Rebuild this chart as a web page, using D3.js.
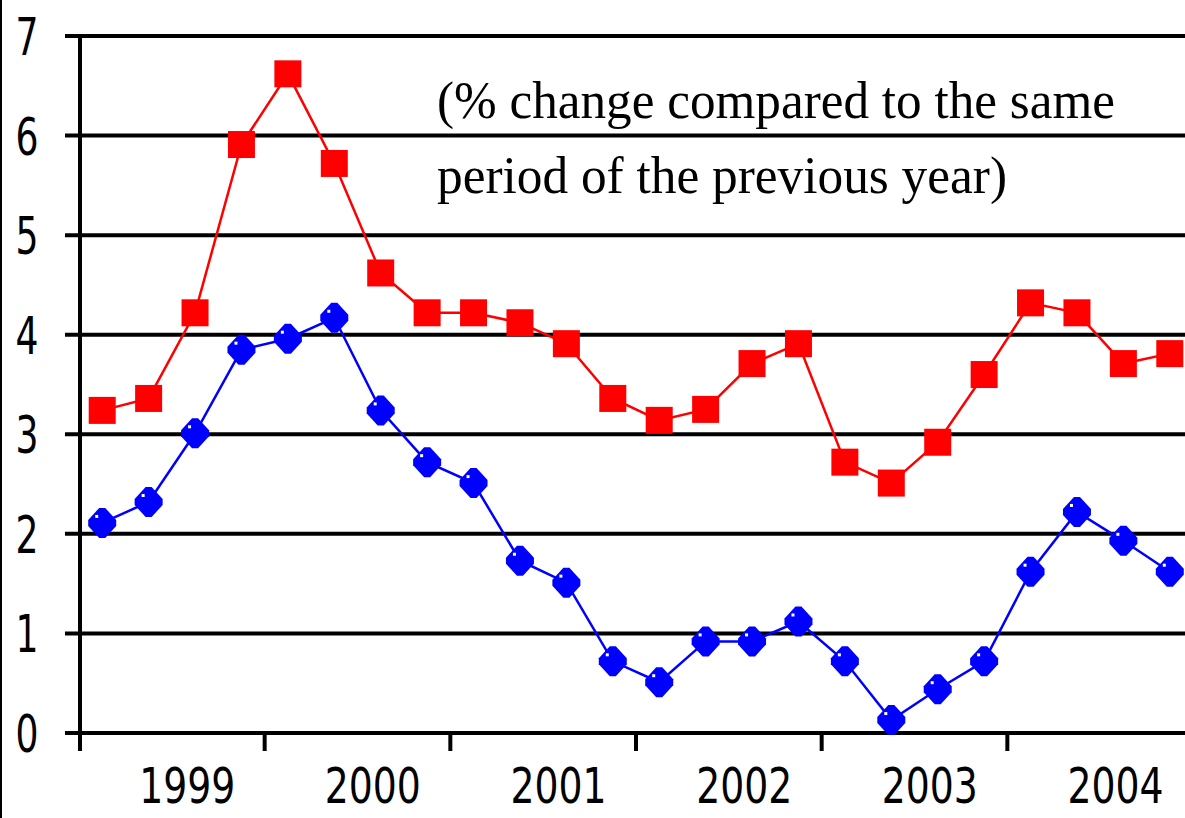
<!DOCTYPE html>
<html>
<head>
<meta charset="utf-8">
<script src="https://cdn.jsdelivr.net/npm/d3@7"></script>
<style>
  body { margin: 0; background: #fff; }
  svg { display: block; }
  .num { font-family: "Liberation Sans Narrow", "DejaVu Sans Condensed", "Arial Narrow", sans-serif; font-size: 52px; fill: #000; }
  .yr { font-size: 50px; }
  .note { font-family: "Liberation Serif", "DejaVu Serif", serif; font-size: 52px; fill: #000; }
</style>
</head>
<body>
<div id="chart"></div>
<script>
// quarterly data, 1999 Q1 .. 2004 Q4
var years = ["1999", "2000", "2001", "2002", "2003", "2004"];
var quarters = [];
years.forEach(function (y) { ["Q1", "Q2", "Q3", "Q4"].forEach(function (q) { quarters.push(y + q); }); });

var redSeries = [3.24, 3.36, 4.22, 5.91, 6.62, 5.72, 4.62, 4.22, 4.22, 4.12, 3.91, 3.36,
                 3.14, 3.25, 3.71, 3.91, 2.72, 2.51, 2.92, 3.6, 4.32, 4.22, 3.71, 3.81];
var blueSeries = [2.11, 2.32, 3.01, 3.85, 3.96, 4.17, 3.24, 2.72, 2.51, 1.73, 1.51, 0.72,
                  0.51, 0.92, 0.92, 1.12, 0.72, 0.13, 0.44, 0.72, 1.62, 2.22, 1.93, 1.62];
var yTicks = [0, 1, 2, 3, 4, 5, 6, 7];
var noteLines = ["(% change compared to the same", "period of the previous year)"];

var W = 1185, H = 818;
var svg = d3.select("#chart").append("svg").attr("width", W).attr("height", H);

var x = d3.scaleBand().domain(quarters).range([79, 1193]).padding(0);
var bw = x.bandwidth();
var y = d3.scaleLinear().domain([0, 7]).range([733, 36]);
var cx = function (i) { return x(quarters[i]) + bw / 2; };

// left frame edge
svg.append("line").attr("x1", 1).attr("x2", 1).attr("y1", 0).attr("y2", H)
    .attr("stroke", "#000").attr("stroke-width", 2);

// gridlines (with left tick stubs)
svg.append("g").selectAll("line").data(yTicks).enter().append("line")
    .attr("x1", 65).attr("x2", W)
    .attr("y1", function (d) { return y(d); }).attr("y2", function (d) { return y(d); })
    .attr("stroke", "#000").attr("stroke-width", 4);

// y axis line
svg.append("line").attr("x1", 80).attr("x2", 80).attr("y1", y(7) - 2).attr("y2", 751)
    .attr("stroke", "#000").attr("stroke-width", 4);

// year boundary ticks
svg.append("g").selectAll("line").data(years.slice(1)).enter().append("line")
    .attr("x1", function (d) { return x(d + "Q1"); }).attr("x2", function (d) { return x(d + "Q1"); })
    .attr("y1", 733).attr("y2", 751)
    .attr("stroke", "#000").attr("stroke-width", 4);

// y tick labels
svg.append("g").selectAll("text").data(yTicks).enter().append("text")
    .attr("class", "num")
    .attr("x", 27).attr("y", function (d) { return y(d) + 19; })
    .attr("text-anchor", "middle")
    .attr("textLength", 23).attr("lengthAdjust", "spacingAndGlyphs")
    .text(function (d) { return d; });

// year labels
svg.append("g").selectAll("text").data(years).enter().append("text")
    .attr("class", "num yr")
    .attr("x", function (d) { return x(d + "Q1") + bw * 2.33; })
    .attr("y", 803)
    .attr("text-anchor", "middle")
    .attr("textLength", 96).attr("lengthAdjust", "spacingAndGlyphs")
    .text(function (d) { return d; });

// note text
svg.append("g").selectAll("text").data(noteLines).enter().append("text")
    .attr("class", "note")
    .attr("x", 437)
    .attr("y", function (d, i) { return i === 0 ? 118 : 193; })
    .attr("textLength", function (d, i) { return i === 0 ? 678 : 570; })
    .attr("lengthAdjust", "spacingAndGlyphs")
    .text(function (d) { return d; });

var line = d3.line().x(function (d, i) { return cx(i); }).y(function (d) { return y(d); });

// red series with squares
svg.append("path").datum(redSeries).attr("d", line)
    .attr("fill", "none").attr("stroke", "#ff0000").attr("stroke-width", 2.5);
svg.append("g").selectAll("rect").data(redSeries).enter().append("rect")
    .attr("x", function (d, i) { return cx(i) - 13.5; })
    .attr("y", function (d) { return y(d) - 13.5; })
    .attr("width", 27).attr("height", 27)
    .attr("fill", "#ff0000");

// blue series with blunt diamonds
svg.append("path").datum(blueSeries).attr("d", line)
    .attr("fill", "none").attr("stroke", "#0000ff").attr("stroke-width", 2.5);
var diamond = "M-3,-15L3,-15L14,-3L14,3L3,15L-3,15L-14,3L-14,-3Z";
svg.append("g").selectAll("path").data(blueSeries).enter().append("path")
    .attr("d", diamond)
    .attr("transform", function (d, i) { return "translate(" + cx(i) + "," + y(d) + ")"; })
    .attr("fill", "#0000ff");
svg.append("g").selectAll("rect").data(blueSeries).enter().append("rect")
    .attr("x", function (d, i) { return cx(i) - 7; })
    .attr("y", function (d) { return y(d) - 8; })
    .attr("width", 3).attr("height", 3)
    .attr("fill", "#fff");
</script>
</body>
</html>
